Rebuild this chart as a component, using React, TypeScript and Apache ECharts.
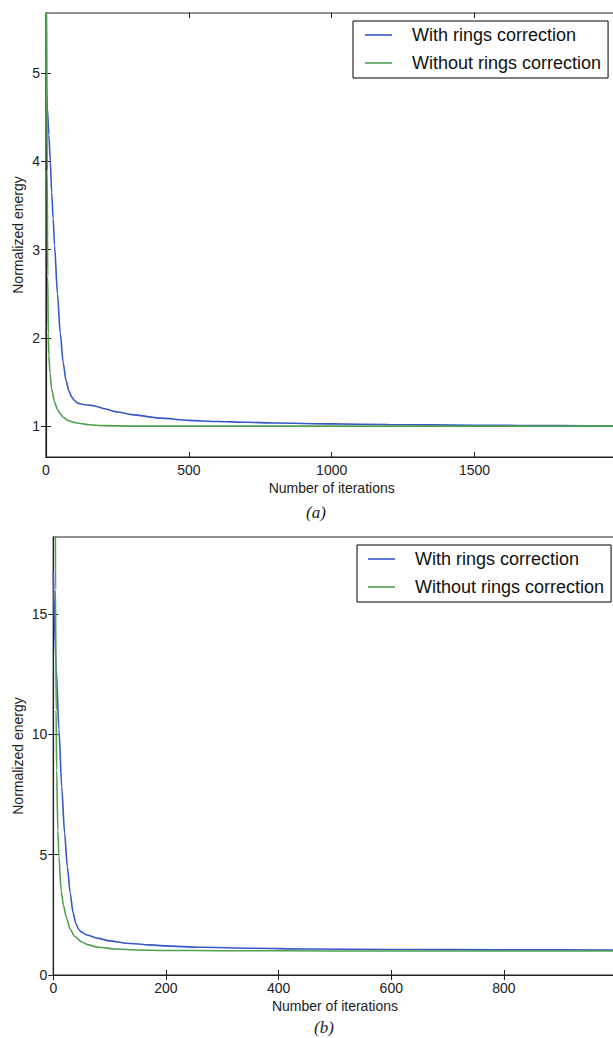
import React, { useEffect, useRef } from 'react';
import * as echarts from 'echarts';

const seriesNames = ['With rings correction', 'Without rings correction'];

// Panel (a)
const iterWithA = [0, 5, 10, 15, 20, 25, 30, 40, 50, 60, 70, 80, 90, 100, 110, 130, 160, 180, 200, 250, 300, 400, 500, 600, 700, 800, 1000, 1200, 1500, 1800, 2000];
const energyWithA = [4.95, 4.6, 4.3, 4.0, 3.65, 3.35, 3.05, 2.5, 2.05, 1.72, 1.52, 1.4, 1.33, 1.29, 1.26, 1.245, 1.235, 1.22, 1.2, 1.16, 1.13, 1.09, 1.065, 1.052, 1.043, 1.035, 1.025, 1.018, 1.01, 1.005, 1.003];
const iterWithoutA = [0, 2, 4, 6, 8, 10, 14, 20, 30, 40, 50, 60, 80, 100, 120, 150, 200, 300, 2000];
const energyWithoutA = [8, 5.8, 3.9, 2.7, 2.05, 1.8, 1.6, 1.42, 1.27, 1.19, 1.14, 1.1, 1.06, 1.04, 1.03, 1.015, 1.005, 1.0, 1.0];
const xTicksA = [0, 500, 1000, 1500, 2000];
const xLabelsA = [0, 500, 1000, 1500];
const yTicksA = [1, 2, 3, 4, 5];

// Panel (b)
const iterWithB = [0, 5, 10, 15, 20, 25, 30, 35, 40, 45, 50, 60, 80, 100, 130, 170, 200, 260, 350, 450, 600, 800, 1000];
const energyWithB = [16.8, 12.8, 10.2, 7.8, 5.9, 4.5, 3.4, 2.6, 2.15, 1.9, 1.78, 1.66, 1.52, 1.42, 1.32, 1.25, 1.21, 1.15, 1.11, 1.08, 1.06, 1.045, 1.04];
const iterWithoutB = [0, 3, 4, 5, 6, 8, 10, 14, 18, 23, 30, 38, 50, 62, 80, 110, 150, 200, 300, 500, 1000];
const energyWithoutB = [60, 25, 16, 11, 8.5, 6.0, 4.9, 3.5, 2.9, 2.4, 1.9, 1.6, 1.38, 1.25, 1.15, 1.08, 1.04, 1.02, 1.01, 1.0, 1.0];
const xTicksB = [0, 200, 400, 600, 800, 1000];
const xLabelsB = [0, 200, 400, 600, 800];
const yTicksB = [0, 5, 10, 15];

const BLUE = '#3858c8';
const GREEN = '#4ea24e';
const FONT = 'Liberation Sans';

const zip = (xs: number[], ys: number[]) => xs.map((x, i) => [x, ys[i]]);
const plain = (v: number) => String(v);

function bottomAxis(grid: number, max: number, ticks: number[], labels: number[]) {
  return {
    type: 'value', gridIndex: grid, min: 0, max, position: 'bottom',
    name: 'Number of iterations', nameLocation: 'middle', nameGap: 24, nameMoveOverlap: false,
    nameTextStyle: { fontFamily: FONT, fontSize: 14, color: '#222' },
    axisLine: { show: true, onZero: false, lineStyle: { color: '#222', width: 1.2 } },
    axisTick: { show: true, inside: true, length: 5, customValues: ticks, lineStyle: { color: '#222' } },
    axisLabel: { show: true, customValues: labels, formatter: plain, margin: 6, fontFamily: FONT, fontSize: 14, color: '#222' },
    splitLine: { show: false },
  };
}
function topAxis(grid: number, max: number, ticks: number[]) {
  return {
    type: 'value', gridIndex: grid, min: 0, max, position: 'top',
    axisLine: { show: false },
    axisTick: { show: true, inside: true, length: 5, customValues: ticks, lineStyle: { color: '#222' } },
    axisLabel: { show: false },
    splitLine: { show: false },
  };
}
function leftAxis(grid: number, min: number, max: number, ticks: number[], nameGap: number) {
  return {
    type: 'value', gridIndex: grid, min, max, position: 'left',
    name: 'Normalized energy', nameLocation: 'middle', nameGap, nameRotate: 90, nameMoveOverlap: false,
    nameTextStyle: { fontFamily: FONT, fontSize: 14, color: '#222' },
    axisLine: { show: true, onZero: false, lineStyle: { color: '#222', width: 1.2 } },
    axisTick: { show: true, inside: true, length: 5, customValues: ticks, lineStyle: { color: '#222' } },
    axisLabel: { show: true, customValues: ticks, formatter: plain, margin: 6, fontFamily: FONT, fontSize: 14, color: '#222' },
    splitLine: { show: false },
  };
}
function rightAxis(grid: number, min: number, max: number, ticks: number[]) {
  return {
    type: 'value', gridIndex: grid, min, max, position: 'right',
    axisLine: { show: false },
    axisTick: { show: true, inside: true, length: 5, customValues: ticks, lineStyle: { color: '#222' } },
    axisLabel: { show: false },
    splitLine: { show: false },
  };
}
function legend(left: number, top: number, padLeft: number) {
  return {
    show: true, orient: 'vertical', left, top,
    data: seriesNames.map((name) => ({ name, icon: 'rect' })),
    padding: [5, 7, 6, padLeft],
    itemGap: 10, itemWidth: 27, itemHeight: 1.6,
    borderColor: '#000', borderWidth: 1, borderRadius: 0, backgroundColor: '#fff',
    textStyle: { fontFamily: FONT, fontSize: 18, color: '#111', padding: [0, 0, 0, 15] },
    selectedMode: false,
  };
}
function line(name: string, color: string, xi: number, yi: number, data: number[][]) {
  return {
    type: 'line', name, xAxisIndex: xi, yAxisIndex: yi, data,
    symbol: 'none', smooth: 0.25, smoothMonotone: 'x', clip: true,
    lineStyle: { color, width: 1.6 }, itemStyle: { color },
  };
}

export default function App() {
  const ref = useRef<HTMLDivElement>(null);
  useEffect(() => {
    document.body.style.margin = '0';
    document.body.style.overflow = 'hidden';
    const chart = echarts.init(ref.current!, null, { renderer: 'svg' });
    chart.setOption({
      animation: false,
      backgroundColor: '#fff',
      grid: [
        { left: 46, top: 13, width: 571.4, height: 444, outerBoundsMode: 'none', containLabel: false, show: true, borderColor: '#222', borderWidth: 1.2, backgroundColor: 'transparent' },
        { left: 53.3, top: 537, width: 563.3, height: 438, outerBoundsMode: 'none', containLabel: false, show: true, borderColor: '#222', borderWidth: 1.2, backgroundColor: 'transparent' },
      ],
      xAxis: [
        bottomAxis(0, 2000, xTicksA, xLabelsA),
        bottomAxis(1, 1000, xTicksB, xLabelsB),
        topAxis(0, 2000, xTicksA),
        topAxis(1, 1000, xTicksB),
      ],
      yAxis: [
        leftAxis(0, 0.65, 5.68, yTicksA, 21),
        leftAxis(1, 0, 18.2, yTicksB, 28),
        rightAxis(0, 0.65, 5.68, yTicksA),
        rightAxis(1, 0, 18.2, yTicksB),
      ],
      legend: [legend(353, 21, 12), legend(357, 545, 11)],
      series: [
        line(seriesNames[0], BLUE, 0, 0, zip(iterWithA, energyWithA)),
        line(seriesNames[1], GREEN, 0, 0, zip(iterWithoutA, energyWithoutA)),
        line(seriesNames[0], BLUE, 1, 1, zip(iterWithB, energyWithB)),
        line(seriesNames[1], GREEN, 1, 1, zip(iterWithoutB, energyWithoutB)),
      ],
      graphic: [
        { type: 'text', left: 306, top: 504, style: { text: '(a)', font: 'italic 17px "Liberation Serif"', fill: '#222' } },
        { type: 'text', left: 314, top: 1019, style: { text: '(b)', font: 'italic 17px "Liberation Serif"', fill: '#222' } },
      ],
    });
    return () => chart.dispose();
  }, []);
  return <div ref={ref} style={{ width: 613, height: 1038 }} />;
}
